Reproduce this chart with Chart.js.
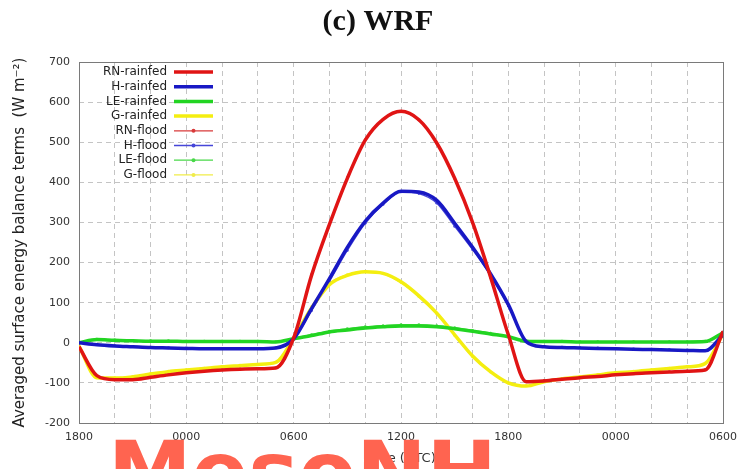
<!DOCTYPE html>
<html>
<head>
<meta charset="utf-8">
<title>(c) WRF</title>
<script src="https://cdn.jsdelivr.net/npm/chart.js@4.4.1/dist/chart.umd.min.js"></script>
<style>
  html, body { margin: 0; padding: 0; background: #ffffff; }
  #wrap { width: 739px; height: 469px; position: relative; }
</style>
</head>
<body>
<div id="wrap"><canvas id="c"></canvas></div>
<script>
// Hours since 1800 UTC on the first day
const hours = [0,1,2,3,4,5,6,7,8,9,10,11,12,13,14,15,16,17,18,19,20,21,22,23,24,25,26,27,28,29,30,31,32,33,34,35,36];
const timeLabels = ['1800', '0000', '0600', '1200', '1800', '0000', '0600'];

// Surface energy balance terms (W m-2), rainfed runs
const rnRainfed = [-10,-82,-92,-92,-86,-80,-75,-71,-68,-66,-65,-63,12,168,295,410,505,557,577,556,498,410,300,165,20,-97,-95,-91,-87,-84,-80,-77,-75,-73,-71,-68,28];
const hRainfed  = [0,-5,-8,-10,-12,-13,-14,-15,-15,-15,-15,-13,10,85,160,238,303,348,378,376,355,298,238,172,95,3,-10,-12,-13,-14,-15,-16,-17,-18,-19,-20,20];
const leRainfed = [0,8,6,5,4,4,3,3,3,3,3,2,10,18,27,32,37,40,42,42,40,35,29,22,15,4,3,3,2,2,2,2,2,2,2,3,25];
const gRainfed  = [-8,-87,-88,-85,-78,-72,-68,-64,-60,-57,-54,-49,12,87,145,168,177,173,152,117,74,20,-33,-72,-100,-108,-97,-90,-85,-80,-75,-72,-68,-64,-60,-52,22];

// Same terms, flood-irrigated runs
const rnFlood = [-10,-83,-91,-91,-85,-79,-74,-70,-67,-65,-64,-62,13,170,296,411,506,557,576,555,497,409,299,163,18,-96,-94,-90,-86,-83,-79,-76,-74,-72,-70,-67,27];
const hFlood  = [0,-4,-7,-9,-11,-12,-13,-14,-14,-14,-14,-12,9,80,153,230,298,345,376,372,348,290,232,168,92,4,-9,-11,-12,-13,-14,-15,-16,-17,-18,-19,19];
const leFlood = [0,9,7,6,5,5,4,4,4,4,4,3,11,20,29,35,40,43,45,45,43,38,31,24,16,5,4,4,3,3,3,3,3,3,3,4,26];
const gFlood  = [-8,-86,-87,-84,-77,-71,-67,-63,-59,-56,-53,-48,13,90,148,170,178,172,150,115,72,18,-35,-73,-101,-107,-96,-89,-84,-79,-74,-71,-67,-63,-59,-51,23];

const seriesLabels = ['RN-rainfed', 'H-rainfed', 'LE-rainfed', 'G-rainfed', 'RN-flood', 'H-flood', 'LE-flood', 'G-flood'];

const SANS = '"DejaVu Sans", "Liberation Sans", sans-serif';

const toPoints = (vals) => hours.map((h, i) => ({ x: h, y: vals[i] }));

function thick(label, vals, color) {
  return { label, data: toPoints(vals), borderColor: color, backgroundColor: color,
           borderWidth: 3.5, pointRadius: 0, cubicInterpolationMode: 'monotone', fill: false };
}
function thin(label, vals, color) {
  return { label, data: toPoints(vals), borderColor: color, backgroundColor: color,
           borderWidth: 1.3, pointRadius: 1.4, pointBorderWidth: 0, cubicInterpolationMode: 'monotone', fill: false };
}

// Heading above the plot
const heading = {
  id: 'heading',
  afterDraw(chart) {
    const ctx = chart.ctx;
    ctx.save();
    ctx.font = 'bold 30px "Liberation Serif", "Times New Roman", serif';
    ctx.fillStyle = '#111';
    ctx.textAlign = 'center';
    ctx.textBaseline = 'middle';
    ctx.fillText('(c) WRF', 378, 22);
    ctx.restore();
  }
};

// Legend drawn inside the plot, text on the left and line sample on the right
const insetLegend = {
  id: 'insetLegend',
  afterDatasetsDraw(chart) {
    const { ctx, chartArea: a } = chart;
    ctx.save();
    ctx.font = '12px ' + SANS;
    ctx.textAlign = 'right';
    ctx.textBaseline = 'middle';
    chart.data.datasets.forEach((ds, i) => {
      const y = a.top + 10 + i * 14.7;
      ctx.fillStyle = '#222';
      ctx.fillText(ds.label, a.left + 88, y);
      ctx.strokeStyle = ds.borderColor;
      ctx.lineWidth = ds.borderWidth;
      ctx.beginPath();
      ctx.moveTo(a.left + 95, y);
      ctx.lineTo(a.left + 134, y);
      ctx.stroke();
      if (ds.pointRadius > 0) {
        ctx.fillStyle = ds.borderColor;
        ctx.beginPath();
        ctx.arc(a.left + 114.5, y, 2, 0, Math.PI * 2);
        ctx.fill();
      }
    });
    ctx.restore();
  }
};

// Box around the plotting area
const frame = {
  id: 'frame',
  beforeDatasetsDraw(chart) {
    const { ctx, chartArea: a } = chart;
    ctx.save();
    ctx.strokeStyle = '#7a7a7a';
    ctx.lineWidth = 1;
    ctx.strokeRect(a.left + 0.5, a.top + 0.5, a.right - a.left, a.bottom - a.top);
    ctx.restore();
  }
};

// Model name stamped across the lower edge
const stamp = {
  id: 'stamp',
  afterDraw(chart) {
    const ctx = chart.ctx;
    ctx.save();
    ctx.font = 'bold 84px "DejaVu Sans", sans-serif';
    ctx.textAlign = 'left';
    ctx.textBaseline = 'alphabetic';
    ctx.fillStyle = '#ff6450';
    ctx.fillText('MesoNH', 108, 501);
    ctx.restore();
  }
};

new Chart(document.getElementById('c'), {
  type: 'line',
  data: {
    datasets: [
      thick(seriesLabels[0], rnRainfed, '#e01414'),
      thick(seriesLabels[1], hRainfed,  '#1818c4'),
      thick(seriesLabels[2], leRainfed, '#22d422'),
      thick(seriesLabels[3], gRainfed,  '#f4ee10'),
      thin(seriesLabels[4], rnFlood, '#d83a3a'),
      thin(seriesLabels[5], hFlood,  '#4646d8'),
      thin(seriesLabels[6], leFlood, '#48d848'),
      thin(seriesLabels[7], gFlood,  '#f0ec48')
    ]
  },
  options: {
    responsive: true,
    maintainAspectRatio: false,
    devicePixelRatio: 1,
    animation: false,
    layout: { padding: { left: 11, right: 16, top: 62, bottom: 0 } },
    plugins: {
      legend: { display: false },
      tooltip: { enabled: false },
      title: { display: false }
    },
    scales: {
      x: {
        type: 'linear',
        min: 0, max: 36,
        afterFit(scale) { scale.height = 46; scale.paddingLeft = 0; scale.paddingRight = 0; },
        border: { display: false, dash: [5, 4] },
        grid: { color: '#c4c4c4', drawTicks: false, lineWidth: 1 },
        ticks: {
          stepSize: 2, autoSkip: false, maxRotation: 0, padding: 8,
          color: '#333', font: { family: SANS, size: 11 },
          callback: (v) => (v % 6 === 0 ? timeLabels[v / 6] : '')
        },
        title: {
          display: true, text: 'time (UTC)', color: '#333',
          font: { family: SANS, size: 13 },
          padding: { top: 0, bottom: 3 }
        }
      },
      y: {
        min: -200, max: 700,
        afterFit(scale) { scale.width = 68; scale.paddingTop = 0; scale.paddingBottom = 0; },
        border: { display: false, dash: [5, 4] },
        grid: { color: '#c4c4c4', drawTicks: false, lineWidth: 1 },
        ticks: {
          stepSize: 100, padding: 9, color: '#333',
          font: { family: SANS, size: 11 }
        },
        title: {
          display: true, text: 'Averaged surface energy balance terms  (W m\u207B\u00B2)', color: '#222',
          font: { family: SANS, size: 15 },
          padding: { top: 0, bottom: 0 }
        }
      }
    }
  },
  plugins: [frame, insetLegend, heading, stamp]
});
</script>
</body>
</html>
